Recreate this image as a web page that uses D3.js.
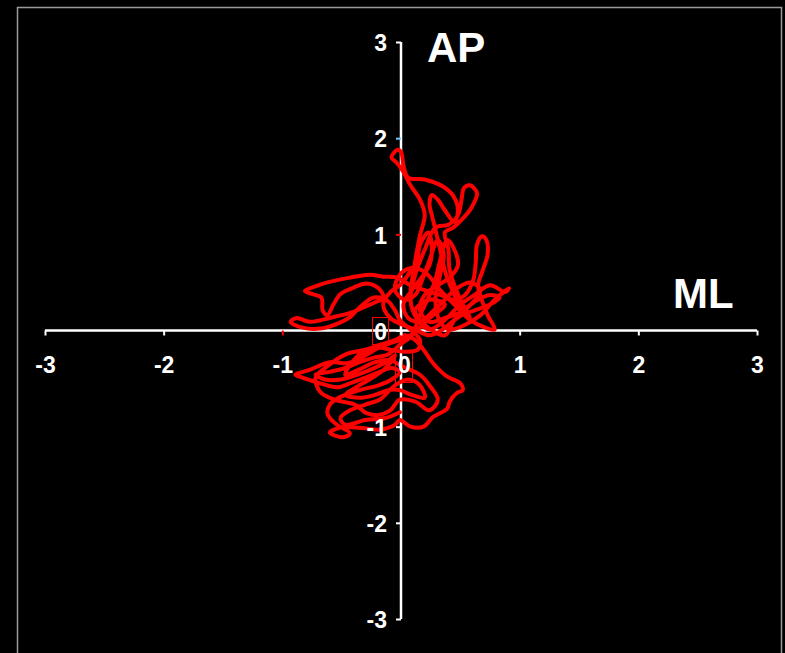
<!DOCTYPE html>
<html>
<head>
<meta charset="utf-8">
<script src="https://cdn.jsdelivr.net/npm/d3@7"></script>
<style>
  html, body { margin: 0; padding: 0; background: #000; }
  svg { display: block; }
  text { font-family: "Liberation Sans", Arial, sans-serif; font-weight: bold; fill: #fff; }
</style>
</head>
<body>
<svg id="chart" width="785" height="653"></svg>
<script>
// axis ticks
const xTicks = [-3, -2, -1, 0, 1, 2, 3];
const yTicks = [-3, -2, -1, 0, 1, 2, 3];

// sway trace, ML (x) and AP (y) in cm
const ml = [0.08, 0.12, 0.16, 0.20, 0.16, 0.08, 0.01, -0.04, -0.08, -0.03,
  0.00, 0.02, 0.06, 0.20, 0.35, 0.44, 0.48, 0.45, 0.37, 0.31,
  0.26, 0.24, 0.26, 0.29, 0.33, 0.38, 0.45, 0.51, 0.58, 0.50,
  0.41, 0.40, 0.37, 0.44, 0.51, 0.59, 0.64, 0.58, 0.53, 0.51,
  0.48, 0.40, 0.29, 0.20, 0.12, 0.08, 0.14, 0.24, 0.37, 0.50,
  0.62, 0.75, 0.88, 0.91, 0.79, 0.67, 0.54, 0.41, 0.33, 0.29,
  0.33, 0.36, 0.31, 0.24, 0.18, 0.12, 0.03, -0.05, -0.01, 0.09,
  0.20, 0.33, 0.45, 0.58, 0.71, 0.79, 0.73, 0.68, 0.65, 0.69,
  0.73, 0.72, 0.68, 0.64, 0.63, 0.61, 0.54, 0.45, 0.33, 0.20,
  0.08, -0.03, -0.15, -0.26, -0.43, -0.62, -0.74, -0.81, -0.75, -0.67,
  -0.66, -0.62, -0.57, -0.51, -0.43, -0.29, -0.19, -0.15, -0.24, -0.35,
  -0.43, -0.54, -0.68, -0.83, -0.93, -0.88, -0.77, -0.60, -0.41, -0.26,
  -0.13, -0.05, -0.01, 0.08, 0.16, 0.14, 0.03, -0.09, -0.18, -0.26,
  -0.35, -0.45, -0.60, -0.77, -0.89, -0.83, -0.68, -0.54, -0.43, -0.30,
  -0.18, -0.08, -0.01, -0.08, -0.19, -0.35, -0.51, -0.60, -0.62, -0.60,
  -0.54, -0.43, -0.49, -0.60, -0.51, -0.35, -0.18, -0.05, -0.01, 0.08,
  0.19, 0.27, 0.39, 0.41, 0.47, 0.52, 0.50, 0.39, 0.27, 0.19,
  0.12, 0.03, -0.05, -0.18, -0.30, -0.47, -0.64, -0.72, -0.68, -0.56,
  -0.39, -0.29, -0.20, -0.09, -0.01, 0.12, 0.24, 0.31, 0.24, 0.16,
  0.08, -0.01, -0.09, -0.22, -0.36, -0.47, -0.35, -0.13, 0.08, 0.24,
  0.37, 0.24, 0.12, 0.20, 0.37, 0.45, 0.58, 0.67, 0.58, 0.45,
  0.37, 0.26, 0.16, 0.06, 0.02, 0.08, 0.16, 0.24, 0.26, 0.23,
  0.16, 0.13, 0.06, -0.01, -0.09, -0.15, -0.09, 0.01, 0.12, 0.24,
  0.35, 0.43, 0.51, 0.62, 0.75, 0.83, 0.75, 0.62, 0.50, 0.37,
  0.24, 0.16, 0.20, 0.31, 0.41, 0.48, 0.45, 0.39, 0.33, 0.29,
  0.23, 0.16, 0.09, -0.01, -0.11, -0.22, -0.35, -0.47, -0.60, -0.72,
  -0.64, -0.51, -0.39, -0.26, -0.13, -0.05, -0.13, -0.24, -0.39, -0.47,
  -0.35, -0.22, -0.11, -0.01, 0.09, 0.20, 0.16, 0.06, -0.05, -0.18,
  -0.30, -0.43, -0.51, -0.47, -0.30, -0.13, -0.01];
const ap = [0.42, 0.73, 0.99, 1.20, 1.36, 1.51, 1.67, 1.75, 1.80, 1.88,
  1.86, 1.72, 1.59, 1.57, 1.50, 1.40, 1.25, 1.13, 1.25, 1.36,
  1.41, 1.31, 1.20, 1.05, 0.84, 0.58, 0.37, 0.21, 0.13, 0.32,
  0.63, 0.84, 1.02, 1.07, 1.15, 1.27, 1.43, 1.51, 1.48, 1.36,
  1.20, 1.10, 1.07, 0.84, 0.58, 0.32, 0.11, 0.01, 0.11, 0.27,
  0.37, 0.47, 0.40, 0.44, 0.32, 0.16, 0.06, 0.01, 0.09, 0.32,
  0.58, 0.79, 0.94, 0.73, 0.53, 0.37, 0.32, 0.42, 0.58, 0.65,
  0.61, 0.42, 0.27, 0.11, 0.03, 0.01, 0.16, 0.32, 0.47, 0.63,
  0.79, 0.94, 0.98, 0.89, 0.71, 0.53, 0.37, 0.32, 0.37, 0.42,
  0.47, 0.55, 0.56, 0.58, 0.55, 0.50, 0.45, 0.41, 0.38, 0.34,
  0.21, 0.16, 0.27, 0.38, 0.43, 0.49, 0.44, 0.35, 0.34, 0.24,
  0.14, 0.07, 0.02, 0.03, 0.09, 0.13, 0.09, 0.13, 0.19, 0.27,
  0.32, 0.21, 0.11, 0.01, -0.10, -0.20, -0.22, -0.20, -0.18, -0.23,
  -0.29, -0.34, -0.33, -0.41, -0.46, -0.49, -0.55, -0.59, -0.55, -0.49,
  -0.43, -0.39, -0.43, -0.51, -0.57, -0.62, -0.69, -0.77, -0.86, -0.91,
  -0.98, -1.07, -1.11, -1.06, -1.01, -1.01, -1.03, -0.98, -0.93, -1.00,
  -1.00, -0.90, -0.81, -0.74, -0.65, -0.62, -0.55, -0.48, -0.34, -0.20,
  -0.10, -0.05, -0.10, -0.15, -0.20, -0.25, -0.39, -0.49, -0.64, -0.72,
  -0.77, -0.86, -0.88, -0.83, -0.72, -0.74, -0.83, -0.72, -0.57, -0.46,
  -0.41, -0.36, -0.31, -0.33, -0.41, -0.46, -0.25, -0.15, -0.05, 0.13,
  0.27, 0.32, 0.21, 0.06, -0.05, 0.11, 0.26, 0.42, 0.50, 0.42,
  0.32, 0.19, 0.09, 0.13, 0.27, 0.40, 0.53, 0.68, 0.86, 1.02,
  0.89, 0.71, 0.58, 0.47, 0.40, 0.27, 0.13, 0.06, 0.01, -0.05,
  0.01, 0.09, 0.16, 0.21, 0.27, 0.34, 0.37, 0.30, 0.19, 0.13,
  0.09, 0.21, 0.37, 0.47, 0.55, 0.68, 0.84, 0.94, 0.73, 0.53,
  0.34, 0.16, -0.05, -0.15, -0.25, -0.28, -0.33, -0.39, -0.43, -0.46,
  -0.51, -0.51, -0.47, -0.41, -0.33, -0.26, -0.39, -0.49, -0.60, -0.67,
  -0.70, -0.67, -0.62, -0.62, -0.67, -0.70, -0.57, -0.51, -0.57, -0.72,
  -0.77, -0.83, -0.91, -0.98, -0.93, -0.91, -0.85];

const svg = d3.select("#chart");

// grey frame of the slide, open at the bottom
svg.append("rect")
  .attr("x", 17.5).attr("y", 7.5)
  .attr("width", 764).attr("height", 700)
  .attr("fill", "none").attr("stroke", "#9a9a9a").attr("stroke-width", 1.5);

const x = d3.scaleLinear().domain([-3, 3]).range([45, 757]);
const y = d3.scaleLinear().domain([-3, 3]).range([619, 42]);

// axis lines drawn under the trace
svg.append("line").attr("x1", 45).attr("x2", 757).attr("y1", y(0)).attr("y2", y(0))
  .attr("stroke", "#fff").attr("stroke-width", 2.5);
svg.append("line").attr("x1", x(0)).attr("x2", x(0)).attr("y1", 42).attr("y2", 619)
  .attr("stroke", "#fff").attr("stroke-width", 2.5);

// the trace
const pts = ml.map((v, i) => [v, ap[i]]);
const line = d3.line()
  .x(d => x(d[0]))
  .y(d => y(d[1]))
  .curve(d3.curveCatmullRom.alpha(0.5));

svg.append("path")
  .datum(pts)
  .attr("d", line)
  .attr("fill", "none")
  .attr("stroke", "#ff0000")
  .attr("stroke-width", 4)
  .attr("stroke-linejoin", "round")
  .attr("stroke-linecap", "round");

// x axis ticks and labels
const gx = svg.append("g")
  .attr("transform", `translate(0,${y(0)})`)
  .call(d3.axisBottom(x).tickValues(xTicks).tickSize(5).tickSizeOuter(0).tickFormat(d => String(d)));
gx.select(".domain").remove();
gx.selectAll(".tick line").attr("stroke", d => d === -1 ? "#ff0000" : "#fff").attr("stroke-width", 2);
gx.selectAll(".tick text")
  .attr("y", 26).attr("dy", "0.71em")
  .attr("dx", d => d === 0 ? 3 : 0)
  .style("font-size", "23px").style("font-family", "Liberation Sans, Arial, sans-serif")
  .style("font-weight", "bold").attr("fill", "#fff");

// y axis ticks and labels
const gy = svg.append("g")
  .attr("transform", `translate(${x(0)},0)`)
  .call(d3.axisLeft(y).tickValues(yTicks).tickSize(5).tickSizeOuter(0).tickFormat(d => String(d)));
gy.select(".domain").remove();
gy.selectAll(".tick line")
  .attr("stroke", d => d === 1 ? "#ff0000" : d === 2 ? "#66ccff" : "#fff")
  .attr("stroke-width", 2);
gy.selectAll(".tick text")
  .attr("x", -14).attr("dy", "0.38em")
  .style("font-size", "23px").style("font-family", "Liberation Sans, Arial, sans-serif")
  .style("font-weight", "bold").attr("fill", "#fff");

// thin red frames round the two zero labels
svg.append("rect").attr("x", 372.5).attr("y", 317.5).attr("width", 16).attr("height", 27)
  .attr("fill", "none").attr("stroke", "#ff0000").attr("stroke-width", 1);
svg.append("rect").attr("x", 395.5).attr("y", 350.5).attr("width", 17).attr("height", 32)
  .attr("fill", "none").attr("stroke", "#ff0000").attr("stroke-width", 1);

// axis titles
svg.append("text").attr("x", 427).attr("y", 62).style("font-size", "42px").text("AP");
svg.append("text").attr("x", 673).attr("y", 308).style("font-size", "42px").text("ML");
</script>
</body>
</html>
